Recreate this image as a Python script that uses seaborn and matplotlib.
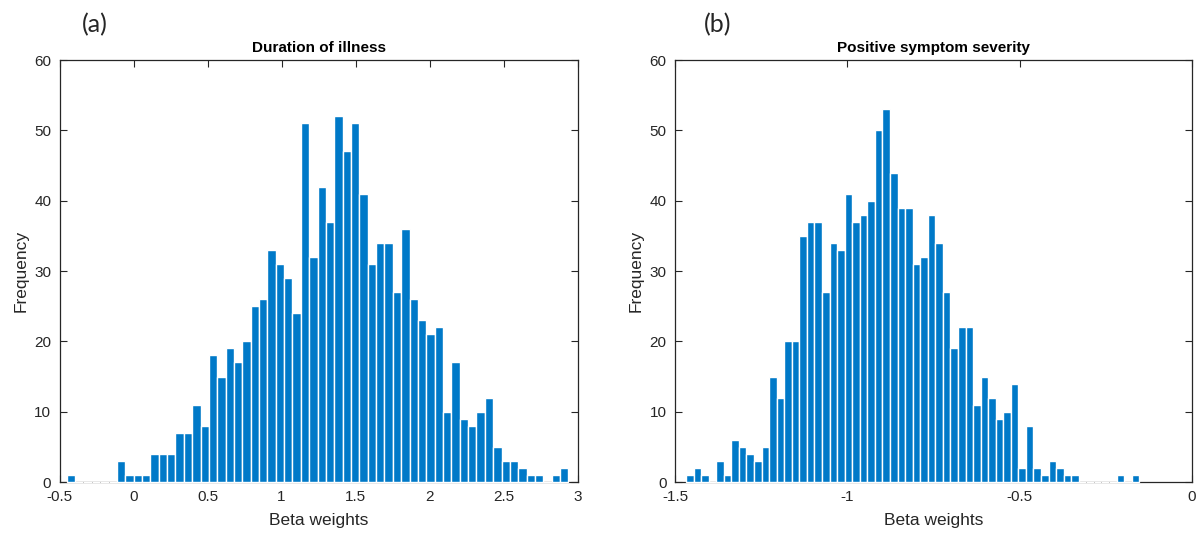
import matplotlib
matplotlib.use("Agg")
import matplotlib.pyplot as plt
import seaborn as sns
import numpy as np
import pandas as pd

# %% data (counts per bin)
dur_counts = [1, 0, 0, 0, 0, 0, 3, 1, 1, 1, 4, 4, 4, 7, 7, 11, 8, 18, 15, 19,
              17, 20, 25, 26, 33, 31, 29, 24, 51, 32, 42, 37, 52, 47, 51, 41, 31, 34, 34, 27,
              36, 26, 23, 21, 22, 10, 17, 9, 8, 10, 12, 5, 3, 3, 2, 1, 1, 0, 1, 2]
dur_range = (-0.451, 2.938)

pos_counts = [1, 2, 1, 0, 3, 1, 6, 5, 4, 3, 5, 15, 12, 20, 20, 35, 37, 37, 27, 34,
              33, 41, 37, 38, 40, 50, 53, 44, 39, 39, 31, 32, 38, 34, 27, 19, 22, 22, 11, 15,
              12, 9, 10, 14, 2, 8, 2, 1, 3, 2, 1, 1, 0, 0, 0, 0, 0, 1, 0, 1]
pos_range = (-1.468, -0.153)

dur_ticks = [-0.5, 0, 0.5, 1, 1.5, 2, 2.5, 3]
pos_ticks = [-1.5, -1, -0.5, 0]
y_ticks = [0, 10, 20, 30, 40, 50, 60]

titles = ['Duration of illness', 'Positive symptom severity']
panel_tags = ['(a)', '(b)']

sns.set_theme(style='ticks')
plt.rcParams['font.family'] = ['Liberation Sans', 'DejaVu Sans']
plt.rcParams['axes.unicode_minus'] = False

bar_color = '#0079C8'
ink = '#262626'

fig = plt.figure(figsize=(12, 5.41), dpi=100)
ax1 = fig.add_axes([0.0496, 0.109, 0.4317, 0.780])
ax2 = fig.add_axes([0.5625, 0.109, 0.4308, 0.780])

panels = [(ax1, dur_counts, dur_range, dur_ticks, (-0.5, 3)),
          (ax2, pos_counts, pos_range, pos_ticks, (-1.5, 0))]

for i, (ax, counts, rng, xticks, xlim) in enumerate(panels):
    nb = len(counts)
    w = (rng[1] - rng[0]) / nb
    centers = rng[0] + w * (np.arange(nb) + 0.5)
    df = pd.DataFrame({'beta': centers, 'n': counts})
    sns.histplot(data=df, x='beta', weights='n', bins=nb, binrange=rng, ax=ax,
                 color=bar_color, alpha=1, edgecolor='white', linewidth=1.0)
    # white edges of empty bins hide the baseline, as in the original
    for p in ax.patches:
        p.set_clip_on(False)
    ax.spines['bottom'].set_zorder(0.5)
    ax.set_xlim(*xlim)
    ax.set_ylim(0, 60)
    ax.set_xticks(xticks)
    ax.set_xticklabels(['%g' % t for t in xticks])
    ax.set_yticks(y_ticks)
    ax.tick_params(direction='in', length=5, width=0.8, top=True, right=True,
                   labelsize=11, colors=ink, pad=6)
    for s in ax.spines.values():
        s.set_color(ink)
        s.set_linewidth(0.9)
    ax.set_xlabel('Beta weights', fontsize=12.5, color=ink, labelpad=6)
    ax.set_ylabel('Frequency', fontsize=12.5, color=ink, labelpad=4)
    ax.set_title(titles[i], fontsize=11, fontweight='bold', color='black', pad=6)
    ax.grid(False)

fig.text(0.079, 0.955, panel_tags[0], fontsize=18, color=ink, ha='center', va='center',
         family=['Lato', 'DejaVu Sans'])
fig.text(0.598, 0.955, panel_tags[1], fontsize=18, color=ink, ha='center', va='center',
         family=['Lato', 'DejaVu Sans'])

plt.savefig('out.png', dpi=100)
